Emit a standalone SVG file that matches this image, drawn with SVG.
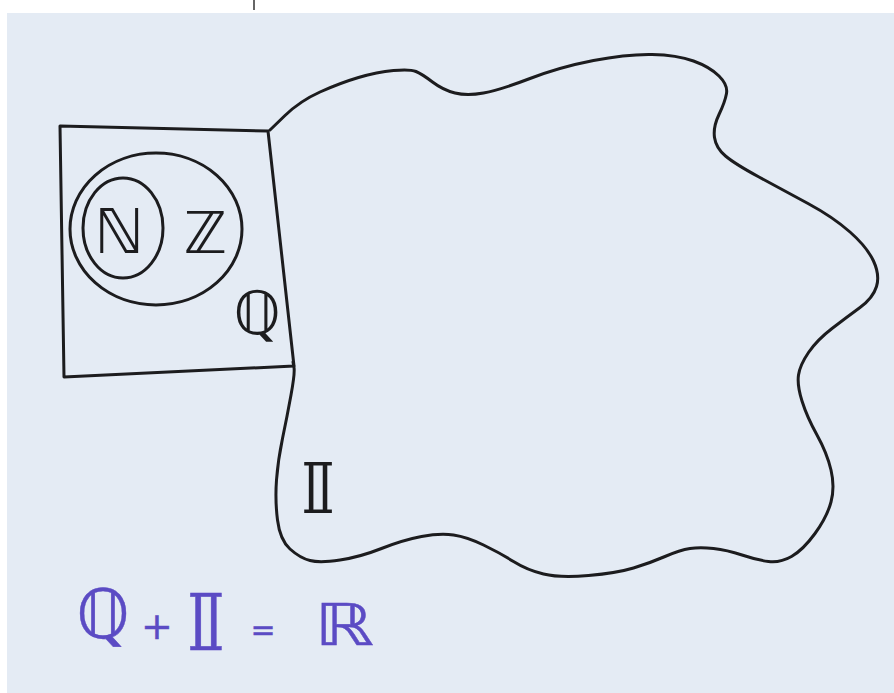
<svg xmlns="http://www.w3.org/2000/svg" width="894" height="693" viewBox="0 0 894 693">
  <style>
    .ink { fill: none; stroke: #1c1c1e; stroke-width: 3; stroke-linecap: round; stroke-linejoin: round; }
    .lbl { font-family: "DejaVu Sans", "Noto Sans", sans-serif; fill: #1c1c1e; text-anchor: middle; }
    .eq { font-family: "DejaVu Sans", "Noto Sans", sans-serif; fill: #5b4bc4; stroke: #5b4bc4; stroke-width: 0.4; text-anchor: middle; }
  </style>
  <rect x="0" y="0" width="894" height="693" fill="#ffffff"/>
  <rect x="7" y="13" width="887" height="680" fill="#e4ebf4"/>
  <line x1="254" y1="0" x2="254" y2="10" stroke="#333" stroke-width="1.5"/>

  <g id="irrationals">
    <path class="ink" d="M270,130 L285,115.5 Q300,101 320,92 Q340,83 358.5,77.5 Q377,72 393.5,70.5 Q410,69 416,71.5 Q422,74 432.5,82 Q443,90 455,93 Q467,96 483.5,93 Q500,90 530,78.5 Q560,67 593.5,60.5 Q627,54 652,54.5 Q677,55 693.5,61 Q710,67 719,76 Q728,85 726.5,93.5 Q725,102 719,114.5 Q713,127 714.5,137.5 Q716,148 725.5,156 Q735,164 759,177 Q783,190 808,203.5 Q833,217 850,232 Q867,247 873.5,261 Q880,275 876.5,286.5 Q873,298 860,307.5 Q847,317 832,328.5 Q817,340 808.5,352.5 Q800,365 798.5,375 Q797,385 802,401 Q807,417 817,435 Q827,453 831,470 Q835,487 831,502 Q827,517 815,533.5 Q803,550 791.5,556.5 Q780,563 768.5,561.5 Q757,560 742,555 Q727,550 713.5,548.5 Q700,547 690,548.5 Q680,550 665,556.5 Q650,563 633.5,568 Q617,573 588.5,575.5 Q560,578 543.5,574 Q527,570 513.5,561.5 Q500,553 483.5,545 Q467,537 453.5,535 Q440,533 421.5,536.5 Q403,540 381.5,548.5 Q360,557 340,560 Q320,563 310,560.5 Q300,558 290,549 Q280,540 277.5,520 Q275,500 276.5,480 Q278,460 282.5,438.5 Q287,417 291,395 Q295,373 294,367.5 L293,362"/>
    <text class="lbl" transform="translate(318,513) scale(1.35,1)" font-size="70">𝕀</text>
  </g>

  <g id="rationals">
    <path class="ink" d="M60,126 L268,131 L294,366 L64,377 Z"/>
    <text class="lbl" x="257" y="334" font-size="60">ℚ</text>
  </g>

  <g id="integers">
    <ellipse class="ink" cx="156" cy="229" rx="86" ry="76"/>
    <text class="lbl" x="205" y="253" font-size="58">ℤ</text>
  </g>

  <g id="naturals">
    <ellipse class="ink" cx="123" cy="228" rx="40" ry="50"/>
    <text class="lbl" x="119" y="253" font-size="62">ℕ</text>
  </g>

  <g id="connectors"></g>

  <g id="equation">
    <text class="eq" x="103" y="638" font-size="68">ℚ</text>
    <text class="eq" x="157" y="639" font-size="38">+</text>
    <text class="eq" transform="translate(206,650) scale(1.35,1)" font-size="78">𝕀</text>
    <text class="eq" x="263" y="640" font-size="30">=</text>
    <text class="eq" transform="translate(344,645) scale(1.3,1)" font-size="58">ℝ</text>
  </g>
</svg>
